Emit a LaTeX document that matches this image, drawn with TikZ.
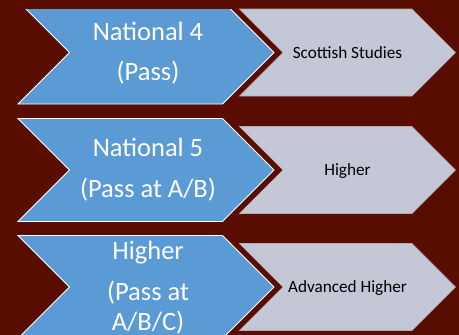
\documentclass[tikz,border=0pt]{standalone}
\usepackage{fontspec}
\setmainfont{Carlito}
\definecolor{bgred}{RGB}{88,13,0}
\definecolor{chevblue}{RGB}{91,155,213}
\definecolor{chevgray}{RGB}{196,199,214}
\begin{document}
\begin{tikzpicture}[x=1pt,y=-1pt,
  bluechev/.style={fill=chevblue,draw=white,line width=0.9pt,line join=miter},
  graychev/.style={fill=chevgray,draw=chevgray!85!bgred,line width=0.6pt,line join=miter},
  bluetext/.style={anchor=base,inner sep=0pt,text=white,font=\fontsize{26.5}{30}\selectfont},
  graytext/.style={anchor=base,inner sep=0pt,text=black,font=\fontsize{17.2}{20}\selectfont}]
\useasboundingbox (0,0) rectangle (459,335);
\fill[bgred] (0,0) rectangle (459,335);
\begin{scope}
\clip (0,9) rectangle (459,335);
% blue chevrons
\draw[bluechev] (18,1) -- (222.5,1) -- (274,52.5) -- (222.5,104) -- (18,104) -- (69.5,52.5) -- cycle;
\draw[bluechev] (18,118.5) -- (222.5,118.5) -- (274,170) -- (222.5,221.5) -- (18,221.5) -- (69.5,170) -- cycle;
\draw[bluechev] (18,235.5) -- (222.5,235.5) -- (274,287) -- (222.5,338.5) -- (18,338.5) -- (69.5,287) -- cycle;
\end{scope}
% gray chevrons
\draw[graychev] (239.5,9) -- (412,9) -- (455.5,52.5) -- (412,96) -- (239.5,96) -- (283,52.5) -- cycle;
\draw[graychev] (239.5,126.5) -- (412,126.5) -- (455.5,170) -- (412,213.5) -- (239.5,213.5) -- (283,170) -- cycle;
\draw[graychev] (239.5,243.5) -- (412,243.5) -- (455.5,287) -- (412,330.5) -- (239.5,330.5) -- (283,287) -- cycle;
% blue texts
\node[bluetext] (n4a) at (148,40) {National 4};
\node[bluetext] (n4b) at (148,80) {(Pass)};
\node[bluetext] (n5a) at (148,156) {National 5};
\node[bluetext] (n5b) at (148,197) {(Pass at A/B)};
\node[bluetext] (ha) at (148,259) {Higher};
\node[bluetext] (hb) at (148,300) {(Pass at};
\node[bluetext] (hc) at (148,330) {A/B/C)};
% gray texts
\node[graytext] (g1) at (347.5,58) {Scottish Studies};
\node[graytext] (g2) at (347.5,175.5) {Higher};
\node[graytext] (g3) at (347.5,292.5) {Advanced Higher};
\end{tikzpicture}
\end{document}
